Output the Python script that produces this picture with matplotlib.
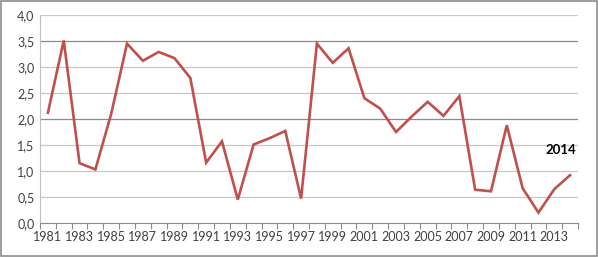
import matplotlib
matplotlib.use("Agg")
import matplotlib.pyplot as plt
from matplotlib.patches import Rectangle
from matplotlib.ticker import FixedLocator, FuncFormatter

years = list(range(1981, 2015))
values = [2.12, 3.51, 1.15, 1.03, 2.10, 3.45, 3.12, 3.29, 3.17, 2.79,
          1.16, 1.57, 0.45, 1.51, 1.63, 1.77, 0.47, 3.45, 3.08, 3.36,
          2.40, 2.20, 1.75, 2.05, 2.33, 2.06, 2.44, 0.64, 0.61, 1.88,
          0.67, 0.20, 0.65, 0.92]
y_ticks = [0.0, 0.5, 1.0, 1.5, 2.0, 2.5, 3.0, 3.5, 4.0]
dark_grid = [2.0, 3.5]

plt.rcParams["font.family"] = ["Lato", "DejaVu Sans"]

fig = plt.figure(figsize=(5.98, 2.57), dpi=100)
ax = fig.add_axes([40 / 598, 34 / 257, 538 / 598, 208 / 257])

x = list(range(len(years)))
ax.plot(x, values, color="#C0504D", lw=1.9, solid_joinstyle="miter", zorder=3)

ax.set_xlim(-0.5, len(years) - 0.5)
ax.set_ylim(0, 4.0)

for v in y_ticks[1:]:
    ax.axhline(v, color="#8C8C8C" if v in dark_grid else "#C8C8C8", lw=0.9, zorder=1)

ax.set_yticks(y_ticks)
ax.yaxis.set_major_formatter(FuncFormatter(lambda v, p: f"{v:.1f}".replace(".", ",")))
ax.tick_params(axis="y", length=0, pad=4, labelsize=9, colors="#404040")

ax.xaxis.set_major_locator(FixedLocator(x[::2]))
ax.set_xticklabels([str(y) for y in years[::2]])
ax.xaxis.set_minor_locator(FixedLocator([i - 0.5 for i in range(len(years) + 1)]))
ax.tick_params(axis="x", which="major", length=0, pad=6, labelsize=9, colors="#404040")
ax.tick_params(axis="x", which="minor", length=4, width=0.8, color="#8C8C8C")

for s in ["top", "right"]:
    ax.spines[s].set_visible(False)
ax.spines["left"].set_color("#BFBFBF")
ax.spines["bottom"].set_color("#8C8C8C")
ax.spines["left"].set_linewidth(0.8)
ax.spines["bottom"].set_linewidth(0.8)

ax.text(32.4, 1.40, "2014", fontsize=9.5, fontweight="bold", ha="center", va="center", color="black")

fig.patches.append(Rectangle((0.002, 0.004), 0.996, 0.992, transform=fig.transFigure,
                             fill=False, edgecolor="#8C8C8C", lw=1.2))

fig.savefig("out.png", dpi=100)
